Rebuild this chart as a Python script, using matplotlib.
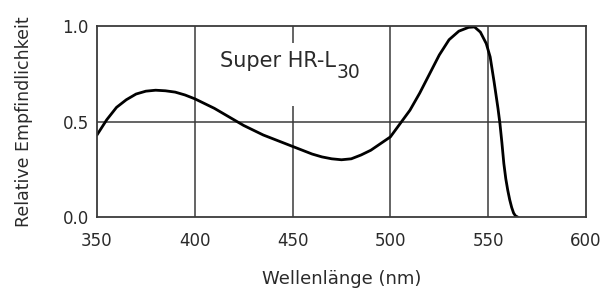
import matplotlib.pyplot as plt

plt.rcParams['font.family'] = ['DejaVu Sans']

# spectral sensitivity
wavelength = [350, 355, 360, 365, 370, 375, 380, 385, 390, 395, 400, 405, 410,
              415, 420, 425, 430, 435, 440, 445, 450, 455, 460, 465, 470, 475,
              480, 485, 490, 495, 500, 505, 510, 515, 520, 525, 530, 535, 540,
              543, 546, 549, 551, 553, 555, 556, 557, 558, 559, 560, 561, 562,
              563, 564, 565]
sensitivity = [0.43, 0.51, 0.575, 0.615, 0.645, 0.66, 0.665, 0.662, 0.655,
               0.64, 0.62, 0.595, 0.57, 0.54, 0.51, 0.48, 0.455, 0.43, 0.41,
               0.39, 0.37, 0.35, 0.33, 0.315, 0.305, 0.30, 0.305, 0.325, 0.35,
               0.385, 0.42, 0.49, 0.56, 0.65, 0.75, 0.85, 0.93, 0.975, 0.995,
               0.997, 0.97, 0.91, 0.84, 0.71, 0.57, 0.49, 0.39, 0.28, 0.20,
               0.14, 0.09, 0.05, 0.02, 0.005, 0.0]

x_ticks = [350, 400, 450, 500, 550, 600]
y_ticks = [0.0, 0.5, 1.0]
y_labels = ['0.0', '0.5', '1.0']

fig = plt.figure(figsize=(6.06, 2.9), dpi=100)
ax = fig.add_axes([0.160, 0.252, 0.807, 0.657])

grid_col = '#3a3a3a'
txt_col = '#2a2a2a'
# grid lines, the one at 450 is broken by the label
for x in [400, 500, 550]:
    ax.axvline(x, color=grid_col, lw=1.1)
ax.vlines(450, 0, 0.58, color=grid_col, lw=1.1)
ax.vlines(450, 0.915, 1.0, color=grid_col, lw=1.1)
ax.axhline(0.5, color=grid_col, lw=1.1)

ax.plot(wavelength, sensitivity, color='black', lw=2.0, solid_capstyle='round',
        solid_joinstyle='round')

t1 = ax.text(413, 0.787, 'Super HR-L', fontsize=15, color=txt_col,
             ha='left', va='baseline')
ax.annotate('30', xy=(1, 0), xycoords=t1, xytext=(0.5, -5),
            textcoords='offset points', fontsize=13.5, color=txt_col,
            ha='left', va='baseline')

ax.set_xlim(350, 600)
ax.set_ylim(0, 1.0)
ax.set_xticks(x_ticks)
ax.set_yticks(y_ticks, y_labels)
ax.tick_params(axis='both', length=0, labelsize=12, labelcolor=txt_col)
ax.tick_params(axis='x', pad=11)
ax.tick_params(axis='y', pad=6)
for s in ax.spines.values():
    s.set_color(grid_col)
    s.set_linewidth(1.3)

ax.set_xlabel('Wellenlänge (nm)', fontsize=13, color=txt_col, labelpad=14)
ax.set_ylabel('Relative Empfindlichkeit', fontsize=12.5, color=txt_col,
              labelpad=21)

fig.savefig('out.png', dpi=100)
